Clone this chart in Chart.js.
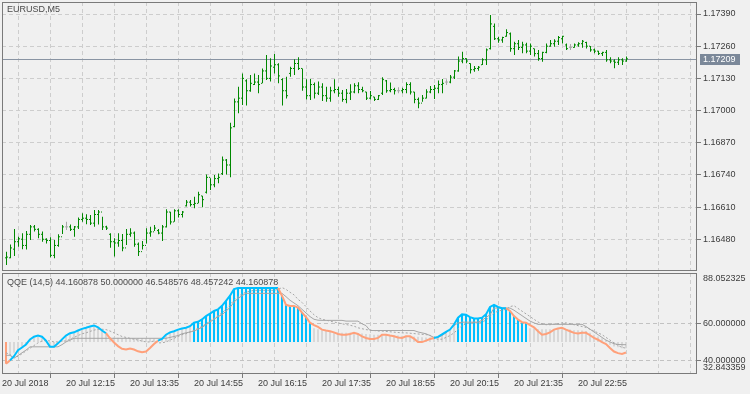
<!DOCTYPE html>
<html lang="en">
<head>
    <meta charset="UTF-8">
    <title>EURUSD,M5 - QQE</title>
    <script src="https://cdn.jsdelivr.net/npm/chart.js"></script>
    <style>
        html, body { margin: 0; padding: 0; background: #f0f0f0; }
        #wrap { position: relative; width: 750px; height: 394px; }
        #priceChart { position: absolute; left: 0; top: 0; }
        #qqeChart { position: absolute; left: 0; top: 272px; }
    </style>
</head>
<body>
<div id="wrap">
    <canvas id="priceChart" width="750" height="272"></canvas>
    <canvas id="qqeChart" width="750" height="122"></canvas>
</div>

<script>
// --- Datos de precio (barras M5, desde 20 Jul 11:00 hasta 23:55) ---
const highs = [
    1.16430, 1.16459, 1.16521, 1.16490, 1.16504, 1.16513, 1.16538, 1.16538, 1.16524, 1.16511,
    1.16484, 1.16488, 1.16477, 1.16500, 1.16538, 1.16551, 1.16540, 1.16534, 1.16568, 1.16585,
    1.16581, 1.16578, 1.16598, 1.16598, 1.16571, 1.16535, 1.16504, 1.16484, 1.16504, 1.16501,
    1.16521, 1.16524, 1.16511, 1.16467, 1.16473, 1.16524, 1.16531, 1.16538, 1.16521, 1.16538,
    1.16601, 1.16591, 1.16601, 1.16601, 1.16594, 1.16639, 1.16639, 1.16652, 1.16672, 1.16656,
    1.16742, 1.16726, 1.16740, 1.16746, 1.16814, 1.16804, 1.16951, 1.17049, 1.17096, 1.17150,
    1.17126, 1.17144, 1.17150, 1.17144, 1.17170, 1.17224, 1.17211, 1.17228, 1.17191, 1.17130,
    1.17137, 1.17177, 1.17207, 1.17215, 1.17170, 1.17126, 1.17127, 1.17113, 1.17117, 1.17110,
    1.17096, 1.17096, 1.17126, 1.17096, 1.17083, 1.17087, 1.17106, 1.17110, 1.17114, 1.17096,
    1.17076, 1.17079, 1.17056, 1.17063, 1.17134, 1.17123, 1.17113, 1.17092, 1.17094, 1.17092,
    1.17114, 1.17114, 1.17076, 1.17053, 1.17063, 1.17086, 1.17099, 1.17103, 1.17121, 1.17127,
    1.17126, 1.17144, 1.17164, 1.17218, 1.17238, 1.17211, 1.17191, 1.17180, 1.17180, 1.17211,
    1.17251, 1.17386, 1.17352, 1.17298, 1.17298, 1.17328, 1.17315, 1.17278, 1.17285, 1.17278,
    1.17274, 1.17271, 1.17251, 1.17245, 1.17238, 1.17271, 1.17285, 1.17288, 1.17301, 1.17302,
    1.17271, 1.17269, 1.17271, 1.17276, 1.17285, 1.17278, 1.17261, 1.17251, 1.17242, 1.17238,
    1.17245, 1.17215, 1.17207, 1.17215, 1.17211, 1.17218
];
const lows = [
    1.16376, 1.16403, 1.16412, 1.16450, 1.16440, 1.16439, 1.16477, 1.16511, 1.16484, 1.16470,
    1.16463, 1.16407, 1.16403, 1.16450, 1.16501, 1.16517, 1.16513, 1.16490, 1.16521, 1.16551,
    1.16541, 1.16538, 1.16531, 1.16540, 1.16517, 1.16517, 1.16446, 1.16410, 1.16450, 1.16432,
    1.16457, 1.16490, 1.16450, 1.16412, 1.16439, 1.16463, 1.16490, 1.16513, 1.16500, 1.16473,
    1.16527, 1.16540, 1.16551, 1.16568, 1.16568, 1.16612, 1.16612, 1.16605, 1.16625, 1.16609,
    1.16665, 1.16679, 1.16690, 1.16706, 1.16740, 1.16742, 1.16730, 1.16932, 1.16989, 1.17022,
    1.17020, 1.17076, 1.17103, 1.17070, 1.17110, 1.17123, 1.17117, 1.17150, 1.17110, 1.17020,
    1.17049, 1.17137, 1.17144, 1.17164, 1.17080, 1.17045, 1.17043, 1.17049, 1.17063, 1.17039,
    1.17036, 1.17036, 1.17070, 1.17056, 1.17036, 1.17029, 1.17043, 1.17070, 1.17070, 1.17074,
    1.17043, 1.17045, 1.17039, 1.17043, 1.17063, 1.17072, 1.17074, 1.17065, 1.17070, 1.17070,
    1.17070, 1.17065, 1.17029, 1.17009, 1.17036, 1.17049, 1.17070, 1.17047, 1.17070, 1.17070,
    1.17103, 1.17110, 1.17127, 1.17157, 1.17191, 1.17191, 1.17150, 1.17157, 1.17161, 1.17184,
    1.17184, 1.17247, 1.17285, 1.17274, 1.17274, 1.17298, 1.17238, 1.17224, 1.17245, 1.17231,
    1.17231, 1.17224, 1.17218, 1.17201, 1.17197, 1.17231, 1.17258, 1.17258, 1.17265, 1.17271,
    1.17245, 1.17245, 1.17254, 1.17258, 1.17254, 1.17251, 1.17238, 1.17231, 1.17224, 1.17220,
    1.17197, 1.17191, 1.17171, 1.17184, 1.17184, 1.17197
];
const opens = [
    1.16405, 1.16405, 1.16440, 1.16470, 1.16480, 1.16455, 1.16500, 1.16530, 1.16520, 1.16500,
    1.16480, 1.16475, 1.16415, 1.16455, 1.16490, 1.16530, 1.16530, 1.16520, 1.16530, 1.16560,
    1.16565, 1.16560, 1.16545, 1.16580, 1.16590, 1.16530, 1.16500, 1.16470, 1.16465, 1.16475,
    1.16445, 1.16500, 1.16505, 1.16460, 1.16430, 1.16455, 1.16505, 1.16510, 1.16515, 1.16505,
    1.16530, 1.16590, 1.16550, 1.16595, 1.16580, 1.16615, 1.16630, 1.16620, 1.16625, 1.16655,
    1.16670, 1.16730, 1.16700, 1.16725, 1.16745, 1.16800, 1.16780, 1.16935, 1.17035, 1.17050,
    1.17120, 1.17080, 1.17105, 1.17115, 1.17110, 1.17160, 1.17130, 1.17175, 1.17185, 1.17125,
    1.17080, 1.17150, 1.17170, 1.17190, 1.17170, 1.17095, 1.17060, 1.17105, 1.17070, 1.17095,
    1.17060, 1.17050, 1.17080, 1.17085, 1.17070, 1.17045, 1.17070, 1.17075, 1.17100, 1.17085,
    1.17075, 1.17050, 1.17055, 1.17045, 1.17070, 1.17120, 1.17080, 1.17085, 1.17080, 1.17080,
    1.17085, 1.17105, 1.17075, 1.17045, 1.17030, 1.17050, 1.17075, 1.17085, 1.17090, 1.17105,
    1.17115, 1.17115, 1.17135, 1.17160, 1.17200, 1.17210, 1.17190, 1.17165, 1.17170, 1.17185,
    1.17205, 1.17250, 1.17340, 1.17290, 1.17285, 1.17300, 1.17310, 1.17250, 1.17270, 1.17255,
    1.17265, 1.17240, 1.17250, 1.17230, 1.17210, 1.17235, 1.17260, 1.17270, 1.17280, 1.17290,
    1.17265, 1.17255, 1.17255, 1.17265, 1.17270, 1.17275, 1.17260, 1.17245, 1.17240, 1.17230,
    1.17235, 1.17205, 1.17200, 1.17195, 1.17205, 1.17200
];
const closes = [
    1.16408, 1.16445, 1.16470, 1.16482, 1.16455, 1.16500, 1.16530, 1.16520, 1.16500, 1.16480,
    1.16475, 1.16415, 1.16455, 1.16490, 1.16530, 1.16530, 1.16520, 1.16530, 1.16560, 1.16565,
    1.16560, 1.16545, 1.16580, 1.16590, 1.16530, 1.16525, 1.16470, 1.16465, 1.16475, 1.16445,
    1.16500, 1.16505, 1.16460, 1.16430, 1.16455, 1.16505, 1.16510, 1.16525, 1.16505, 1.16530,
    1.16590, 1.16550, 1.16595, 1.16580, 1.16590, 1.16630, 1.16620, 1.16625, 1.16660, 1.16640,
    1.16730, 1.16700, 1.16725, 1.16730, 1.16800, 1.16780, 1.16930, 1.17035, 1.17050, 1.17130,
    1.17080, 1.17110, 1.17115, 1.17105, 1.17160, 1.17130, 1.17180, 1.17185, 1.17140, 1.17080,
    1.17060, 1.17170, 1.17190, 1.17170, 1.17095, 1.17060, 1.17105, 1.17070, 1.17095, 1.17060,
    1.17050, 1.17080, 1.17085, 1.17070, 1.17045, 1.17070, 1.17075, 1.17100, 1.17085, 1.17080,
    1.17050, 1.17060, 1.17045, 1.17060, 1.17125, 1.17080, 1.17085, 1.17080, 1.17080, 1.17085,
    1.17105, 1.17075, 1.17045, 1.17030, 1.17050, 1.17075, 1.17085, 1.17090, 1.17105, 1.17110,
    1.17115, 1.17135, 1.17160, 1.17200, 1.17210, 1.17200, 1.17165, 1.17170, 1.17175, 1.17205,
    1.17245, 1.17350, 1.17290, 1.17285, 1.17295, 1.17315, 1.17250, 1.17270, 1.17255, 1.17265,
    1.17240, 1.17260, 1.17230, 1.17210, 1.17235, 1.17260, 1.17270, 1.17280, 1.17295, 1.17300,
    1.17250, 1.17255, 1.17265, 1.17270, 1.17280, 1.17260, 1.17245, 1.17240, 1.17230, 1.17235,
    1.17205, 1.17200, 1.17195, 1.17205, 1.17200, 1.17209
];

// --- Datos del indicador QQE (14,5) ---
const qqeLine = [
    38.0, 39.8, 42.1, 45.4, 46.9, 48.6, 51.4, 52.9, 53.5, 52.9,
    50.7, 47.3, 47.3, 49.2, 51.4, 53.5, 54.8, 55.3, 56.3, 57.2,
    57.8, 58.5, 59.1, 58.1, 56.3, 54.8, 52.0, 49.7, 47.7, 46.2,
    45.8, 46.4, 45.8, 44.8, 44.3, 44.7, 46.6, 48.8, 50.7, 51.6,
    54.0, 55.3, 55.9, 56.8, 57.4, 57.8, 58.7, 60.6, 61.1, 62.4,
    64.3, 65.6, 67.1, 68.0, 69.9, 72.7, 75.5, 79.2, 79.8, 79.8,
    79.8, 79.8, 79.8, 79.8, 79.8, 79.8, 79.8, 79.8, 79.8, 75.5,
    70.5, 69.9, 69.9, 69.0, 66.2, 63.7, 60.6, 59.3, 58.3, 56.8,
    56.3, 55.9, 55.3, 54.4, 54.0, 54.0, 54.4, 55.0, 54.4, 53.1,
    52.2, 51.6, 51.6, 52.2, 54.0, 54.0, 53.5, 53.1, 52.5, 52.2,
    53.1, 53.1, 51.8, 49.9, 49.9, 50.7, 51.6, 52.2, 52.8, 54.2,
    55.5, 56.8, 59.6, 63.4, 65.2, 65.0, 63.7, 63.0, 63.0, 63.4,
    65.2, 69.3, 70.5, 69.3, 68.6, 68.6, 67.1, 64.3, 62.4, 60.9,
    60.6, 59.3, 58.1, 55.9, 54.0, 54.4, 55.3, 56.8, 57.4, 57.8,
    56.8, 55.9, 55.0, 54.6, 55.0, 55.0, 53.7, 52.2, 51.2, 49.9,
    48.8, 46.6, 44.7, 43.8, 43.4, 44.160878
];
const histTop = [
    38.0, 42.6, 44.0, 45.5, 47.0, 48.5, 51.5, 52.5, 53.0, 52.5,
    51.0, 47.5, 47.5, 49.5, 51.0, 53.0, 54.5, 55.0, 56.0, 57.0,
    57.5, 58.0, 58.5, 58.0, 56.5, 55.0, 52.5, 52.4, 52.3, 52.2,
    52.2, 52.2, 52.2, 52.2, 52.1, 52.0, 52.0, 51.8, 50.7, 51.6,
    54.0, 55.3, 55.9, 56.8, 57.4, 57.8, 58.7, 60.6, 61.1, 62.4,
    64.3, 65.6, 67.1, 68.0, 69.9, 72.7, 75.5, 79.2, 79.8, 79.8,
    79.8, 79.8, 79.8, 79.8, 79.8, 79.8, 79.8, 79.8, 79.8, 75.5,
    70.5, 69.9, 69.9, 69.0, 66.2, 63.7, 60.6, 57.5, 57.0, 56.5,
    56.3, 55.9, 55.5, 55.2, 55.0, 55.0, 55.0, 55.0, 54.8, 54.6,
    54.4, 54.2, 54.0, 54.0, 54.0, 54.0, 53.8, 53.6, 53.5, 53.4,
    53.3, 53.2, 53.0, 52.8, 52.6, 52.5, 52.5, 52.5, 53.0, 54.2,
    55.5, 56.8, 59.6, 63.4, 65.2, 65.0, 63.7, 63.0, 63.0, 63.4,
    65.2, 69.3, 70.5, 69.3, 68.6, 68.6, 67.1, 64.3, 62.4, 60.9,
    60.6, 57.5, 57.5, 57.0, 57.0, 57.0, 57.0, 57.0, 57.0, 57.0,
    57.0, 56.8, 56.5, 56.5, 56.3, 56.0, 55.0, 54.0, 53.0, 52.0,
    51.0, 48.5, 47.5, 47.0, 46.5, 46.5
];
const levelSlow = [
    42.6, 42.6, 41.0, 42.5, 44.0, 45.5, 47.3, 47.3, 47.3, 47.3,
    47.3, 47.3, 47.3, 47.3, 48.5, 50.0, 51.0, 52.0, 52.0, 52.0,
    52.0, 52.0, 52.0, 52.0, 52.0, 52.0, 52.0, 52.0, 52.0, 52.0,
    52.0, 52.0, 52.0, 52.0, 52.0, 52.0, 52.0, 52.0, 52.0, 52.0,
    52.0, 52.5, 53.0, 53.5, 54.5, 55.0, 55.5, 56.0, 57.0, 58.0,
    59.5, 61.0, 62.5, 64.0, 65.0, 67.0, 69.0, 72.0, 74.0, 75.5,
    76.8, 76.8, 76.8, 76.8, 76.8, 76.8, 76.8, 76.8, 76.8, 76.8,
    75.0, 73.0, 71.5, 70.0, 68.0, 66.0, 64.0, 62.5, 62.0, 61.9,
    61.9, 61.9, 61.9, 61.9, 61.9, 61.5, 61.5, 61.5, 61.5, 60.0,
    59.0, 56.3, 56.3, 56.3, 56.3, 56.3, 56.3, 56.3, 56.3, 56.3,
    56.3, 56.3, 56.3, 55.5, 55.0, 54.5, 53.5, 52.5, 52.5, 53.5,
    55.0, 57.0, 59.0, 60.5, 60.9, 60.9, 60.9, 60.9, 60.9, 62.0,
    63.5, 65.0, 68.7, 68.7, 68.7, 68.7, 68.7, 67.5, 66.0, 64.5,
    63.0, 61.5, 60.5, 59.7, 59.7, 59.7, 59.7, 59.7, 59.7, 59.7,
    59.7, 59.7, 59.7, 59.7, 59.7, 58.5, 57.0, 55.5, 54.0, 52.5,
    51.0, 50.0, 49.0, 48.6, 48.5, 48.457242
];
const levelFast = [
    44.0, 43.0, 41.5, 42.0, 43.5, 45.0, 46.5, 48.0, 49.5, 50.5,
    50.8, 50.5, 50.0, 50.0, 50.5, 50.5, 51.5, 52.5, 53.5, 54.5,
    55.0, 55.8, 56.5, 57.0, 57.0, 56.8, 56.0, 55.0, 54.0, 53.0,
    52.5, 52.0, 51.5, 51.0, 50.5, 50.0, 50.0, 50.5, 49.5, 49.5,
    50.0, 51.0, 52.0, 53.0, 54.0, 54.5, 55.5, 56.5, 57.5, 58.5,
    60.0, 61.5, 63.0, 64.5, 66.0, 68.0, 70.5, 73.0, 75.0, 76.5,
    77.5, 78.0, 78.5, 78.5, 78.5, 78.5, 78.5, 78.5, 79.0, 80.0,
    79.0, 77.4, 76.0, 73.5, 71.8, 69.5, 67.1, 65.0, 63.4, 62.5,
    62.0, 61.5, 61.0, 60.5, 60.0, 59.6, 59.2, 58.7, 57.8, 57.3,
    56.8, 56.5, 56.3, 56.0, 56.0, 55.8, 55.6, 55.4, 55.2, 55.0,
    55.0, 54.8, 54.6, 54.4, 54.2, 54.0, 53.8, 52.0, 51.5, 51.5,
    52.5, 53.5, 55.0, 57.0, 59.0, 60.0, 60.5, 60.5, 60.5, 61.0,
    62.0, 64.0, 66.0, 67.0, 67.5, 68.0, 69.5, 70.0, 68.5, 67.0,
    65.5, 64.0, 62.5, 61.0, 60.0, 59.5, 59.5, 59.8, 60.0, 60.5,
    60.5, 60.0, 59.5, 59.0, 58.5, 58.0, 57.0, 56.0, 55.0, 54.0,
    52.5, 51.0, 49.5, 48.0, 47.0, 46.548576
];
const qqeLevel = 50;
// tramos de la linea en tendencia alcista (indice inicial, indice final)
const lineUpSpans = [[1, 25], [38, 68], [107, 125]];
// barras del histograma coloreadas
const histUpSpans = [[47, 76], [113, 130]];
const histDownSpans = [[0, 0]];

// --- Ejes ---
const priceTicks = [1.16480, 1.16610, 1.16740, 1.16870, 1.17000, 1.17130, 1.17260, 1.17390];
const qqeTicks = [32.843359, 40, 60, 88.052325];
const timeTickBars = [-1, 15, 31, 47, 63, 79, 95, 111, 127, 143];
const timeLabels = ['20 Jul 2018', '20 Jul 12:15', '20 Jul 13:35', '20 Jul 14:55', '20 Jul 16:15',
    '20 Jul 17:35', '20 Jul 18:55', '20 Jul 20:15', '20 Jul 21:35', '20 Jul 22:55'];

// colores
const GREEN = '#008800', DOJI = '#a8a8a8';
const BLUE = '#00bfff', ORANGE = '#ffa07a', HIST_GRAY = '#d8d8d8';
const GRID = '#cdcdcd', FRAME = '#7a7a7a', TEXT = '#3c3c3c';
const NONE = 'rgba(0,0,0,0)';

Chart.defaults.font.family = '"Liberation Sans", Arial, sans-serif';
Chart.defaults.font.size = 9;
Chart.defaults.color = TEXT;
Chart.defaults.animation = false;

// lineas verticales de la rejilla cada 8 barras
const gridBars = [];
for (let v = -1; v <= 172; v += 8) gridBars.push(v);

function inSpans(spans, i) {
    return spans.some(s => i >= s[0] && i <= s[1]);
}

// quita el margen automatico que Chart.js reserva para las etiquetas
function noPadding(s) {
    s.paddingTop = 0;
    s.paddingBottom = 0;
    s.paddingLeft = 0;
    s.paddingRight = 0;
}

const barColors = opens.map((o, i) => (o === closes[i] ? DOJI : GREEN));
const histColors = histTop.map((v, i) => inSpans(histUpSpans, i) ? BLUE : (inSpans(histDownSpans, i) ? ORANGE : HIST_GRAY));
const lastClose = closes[closes.length - 1];

// Plugin: marco del panel, titulo y linea del precio actual
const panelPlugin = {
    id: 'panel',
    beforeDatasetsDraw(chart, args, opts) {
        if (!opts.priceLine) return;
        const ctx = chart.ctx, a = chart.chartArea;
        const y = Math.round(chart.scales.y.getPixelForValue(opts.priceLine)) + 0.5;
        ctx.save();
        ctx.strokeStyle = '#8994a3';
        ctx.lineWidth = 1;
        ctx.beginPath();
        ctx.moveTo(a.left, y);
        ctx.lineTo(a.right, y);
        ctx.stroke();
        ctx.restore();
    },
    afterDraw(chart, args, opts) {
        const ctx = chart.ctx, a = chart.chartArea;
        ctx.save();
        ctx.strokeStyle = FRAME;
        ctx.lineWidth = 1;
        ctx.strokeRect(a.left + 0.5, a.top + 0.5, a.right - a.left, a.bottom - a.top);
        ctx.font = '9px "Liberation Sans", Arial, sans-serif';
        ctx.fillStyle = '#4a4a4a';
        ctx.textBaseline = 'middle';
        ctx.textAlign = 'left';
        ctx.fillText(opts.title, a.left + 5, a.top + opts.titleOffset);
        if (opts.priceLine) {
            const y = Math.round(chart.scales.y.getPixelForValue(opts.priceLine));
            ctx.fillStyle = '#7b8899';
            ctx.fillRect(a.right + 4, y - 5, 40, 11);
            ctx.fillStyle = '#ffffff';
            ctx.fillText(opts.priceLine.toFixed(5), a.right + 7, y + 0.5);
        }
        ctx.restore();
    }
};

// --- Grafico de precio (barras OHLC) ---
new Chart(document.getElementById('priceChart'), {
    type: 'bar',
    data: {
        datasets: [
            {
                type: 'bar',
                data: highs.map((h, i) => ({ x: i, y: [lows[i], h] })),
                backgroundColor: barColors,
                barThickness: 1,
                inflateAmount: 0,
                borderWidth: 0,
                order: 1
            },
            {
                type: 'scatter',
                data: opens.map((o, i) => ({ x: i - 0.25, y: o })),
                pointStyle: 'line',
                pointRadius: 0.5,
                pointHoverRadius: 0.5,
                pointBorderWidth: 1,
                pointBorderColor: barColors,
                order: 0
            },
            {
                type: 'scatter',
                data: closes.map((c, i) => ({ x: i + 0.25, y: c })),
                pointStyle: 'line',
                pointRadius: 0.5,
                pointHoverRadius: 0.5,
                pointBorderWidth: 1,
                pointBorderColor: barColors,
                order: 0
            }
        ]
    },
    options: {
        responsive: false,
        events: [],
        layout: { autoPadding: false, padding: { left: 2, top: 2, right: 0, bottom: 2 } },
        plugins: {
            legend: { display: false },
            tooltip: { enabled: false },
            panel: { title: 'EURUSD,M5', titleOffset: 7.5, priceLine: lastClose }
        },
        scales: {
            x: {
                type: 'linear',
                min: -1.125,
                max: 172.375,
                offset: false,
                afterBuildTicks: s => { s.ticks = gridBars.map(v => ({ value: v })); },
                afterFit: s => { s.height = 0; noPadding(s); },
                ticks: { display: false },
                grid: { color: GRID, drawTicks: false },
                border: { display: false, dash: [4, 3] }
            },
            y: {
                position: 'right',
                min: 1.163558,
                max: 1.174385,
                afterBuildTicks: s => { s.ticks = priceTicks.map(v => ({ value: v })); },
                afterFit: s => { s.width = 54; noPadding(s); },
                ticks: { padding: 2, callback: v => v.toFixed(5) },
                grid: { color: GRID, tickColor: FRAME, tickLength: 5 },
                border: { display: false, dash: [4, 3] }
            }
        }
    },
    plugins: [panelPlugin]
});

// --- Grafico del indicador QQE ---
const lastIdx = qqeLine.length - 1;
const qqeTitle = 'QQE (14,5) ' + [qqeLine[lastIdx], qqeLevel, levelFast[lastIdx], levelSlow[lastIdx], qqeLine[lastIdx]]
    .map(v => v.toFixed(6)).join(' ');

const isLevelTick = ctx => !!ctx.tick && (ctx.tick.value === 40 || ctx.tick.value === 60);
const isTimeTick = ctx => !!ctx.tick && timeTickBars.includes(ctx.tick.value);

new Chart(document.getElementById('qqeChart'), {
    type: 'bar',
    data: {
        datasets: [
            {
                type: 'bar',
                data: histTop.map((v, i) => ({ x: i, y: [qqeLevel, v] })),
                backgroundColor: histColors,
                barThickness: 2,
                inflateAmount: 0,
                borderWidth: 0,
                order: 3
            },
            {
                type: 'line',
                data: levelSlow.map((v, i) => ({ x: i, y: v })),
                borderColor: '#a6a6a6',
                borderWidth: 1,
                pointRadius: 0,
                order: 2
            },
            {
                type: 'line',
                data: levelFast.map((v, i) => ({ x: i, y: v })),
                borderColor: '#a6a6a6',
                borderWidth: 1,
                borderDash: [2, 2],
                pointRadius: 0,
                order: 1
            },
            {
                type: 'line',
                data: qqeLine.map((v, i) => ({ x: i, y: v })),
                borderColor: BLUE,
                borderWidth: 2,
                pointRadius: 0,
                segment: {
                    borderColor: ctx => lineUpSpans.some(s => ctx.p0DataIndex >= s[0] && ctx.p0DataIndex < s[1]) ? BLUE : ORANGE
                },
                order: 0
            }
        ]
    },
    options: {
        responsive: false,
        events: [],
        layout: { autoPadding: false, padding: { left: 2, top: 1, right: 0, bottom: 0 } },
        plugins: {
            legend: { display: false },
            tooltip: { enabled: false },
            panel: { title: qqeTitle, titleOffset: 10 }
        },
        scales: {
            x: {
                type: 'linear',
                min: -1,
                max: 172.5,
                offset: false,
                afterBuildTicks: s => { s.ticks = gridBars.map(v => ({ value: v })); },
                afterFit: s => { s.height = 21; noPadding(s); },
                ticks: {
                    align: 'start',
                    padding: 0,
                    maxRotation: 0,
                    autoSkip: false,
                    callback: v => {
                        const k = timeTickBars.indexOf(v);
                        return k >= 0 ? timeLabels[k] : '';
                    }
                },
                grid: {
                    color: GRID,
                    tickLength: 5,
                    tickColor: ctx => isTimeTick(ctx) ? FRAME : NONE
                },
                border: { display: false, dash: [4, 3] }
            },
            y: {
                position: 'right',
                min: 32.843359,
                max: 88.052325,
                afterBuildTicks: s => { s.ticks = qqeTicks.map(v => ({ value: v })); },
                afterFit: s => { s.width = 54; noPadding(s); },
                ticks: {
                    padding: 2,
                    callback: (v, i) => {
                        const t = v.toFixed(6);
                        if (i === qqeTicks.length - 1) return ['', t];
                        if (i === 0) return [t, ''];
                        return t;
                    }
                },
                grid: {
                    color: ctx => isLevelTick(ctx) ? '#c2c2c2' : NONE,
                    tickColor: ctx => isLevelTick(ctx) ? FRAME : NONE,
                    tickLength: 5
                },
                border: { display: false, dash: [4, 3] }
            }
        }
    },
    plugins: [panelPlugin]
});
</script>
</body>
</html>
